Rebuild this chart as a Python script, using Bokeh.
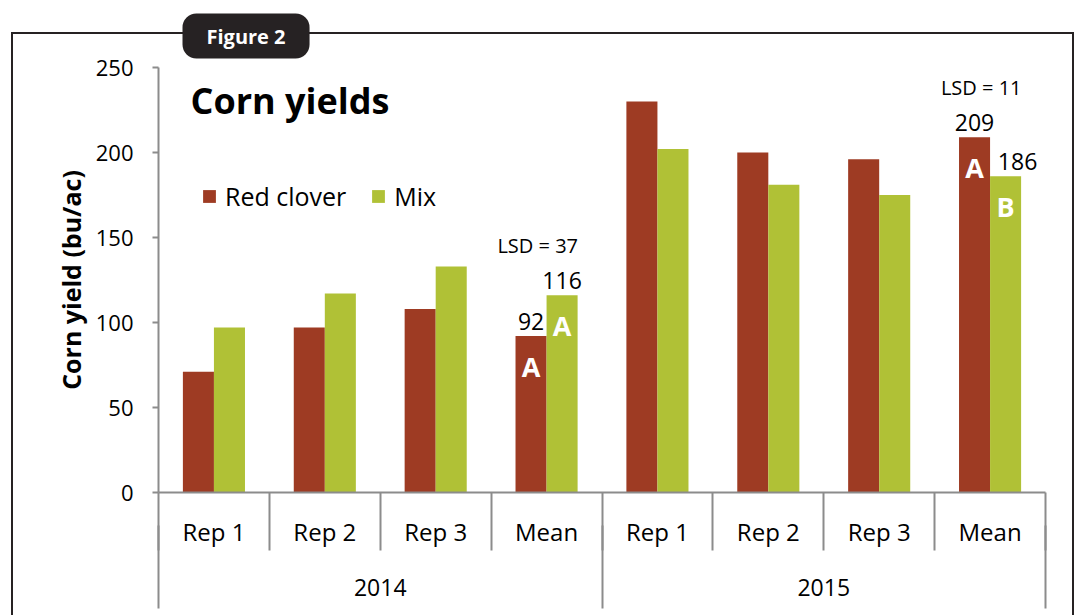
from bokeh.plotting import figure
from bokeh.models import (ColumnDataSource, Range1d, FixedTicker,
                          Label, Legend, LegendItem, LinearAxis)
from bokeh.transform import dodge
from bokeh.core.properties import value
from bokeh.embed import file_html
from bokeh.resources import INLINE

# ---------------- data ----------------
years = ["2014", "2015"]
reps = ["Rep 1", "Rep 2", "Rep 3", "Mean"]
red_clover = [71, 97, 108, 92, 230, 200, 196, 209]
mix = [97, 117, 133, 116, 202, 181, 175, 186]
lsd_text = ["LSD = 37", "LSD = 11"]
red_letters = ["A", "A"]
mix_letters = ["A", "B"]
y_ticks = [0, 50, 100, 150, 200, 250]

# ---------------- style ----------------
FONT = "Open Sans"
RED = "#9e3b23"
GREEN = "#b0c136"
AXIS = "#8c8c8c"
DARK = "#262223"

W, H = 1081, 615
FL, FR, FT, FB = 158, 1045, 67, 492      # frame edges (canvas px)
Y_MAX = 250
PXY = (FB - FT) / Y_MAX

factors = [(y, r) for y in years for r in reps]
n_cat = len(factors)
n_rep = len(reps)
PXX = (FR - FL) / n_cat
slot = [i + 0.5 for i in range(n_cat)]    # category centres on the x scale

def dx(sx):   # canvas px -> x
    return (sx - FL) / PXX

def dy(sy):   # canvas px -> data y
    return Y_MAX - (sy - FT) / PXY

p = figure(width=W, height=H,
           x_range=Range1d(0, n_cat), y_range=Range1d(0, Y_MAX),
           x_axis_location=None,
           title="Figure 2",
           output_backend="svg", toolbar_location=None,
           min_border_left=FL, min_border_right=W - FR,
           min_border_top=FT, min_border_bottom=H - FB)
p.outline_line_color = None
p.xgrid.visible = False
p.ygrid.visible = False
p.background_fill_color = "white"
p.border_fill_alpha = 0

# outer frame lines drawn as page background behind the transparent border area
p.styles = {
    "background-color": "white",
    "background-image": ("linear-gradient(#262223,#262223),"
                         "linear-gradient(#262223,#262223),"
                         "linear-gradient(#262223,#262223)"),
    "background-size": "2px 620px, 2px 620px, 1063px 2px",
    "background-position": "11px 32px, 1072px 32px, 11px 32px",
    "background-repeat": "no-repeat",
}

# "Figure 2" tab as the plot title
t = p.title
t.align = "left"
t.offset = 24
t.standoff = 18
t.text_font = FONT
t.text_font_style = "bold"
t.text_font_size = "20px"
t.text_color = "white"
t.background_fill_color = DARK
t.background_fill_alpha = 1
for k, v in dict(padding=(24, 9), border_radius=14).items():
    if k in t.properties():
        setattr(t, k, v)

# y axis
ya = p.yaxis[0]
ya.ticker = FixedTicker(ticks=y_ticks)
ya.axis_line_color = AXIS
ya.axis_line_width = 2
ya.major_tick_line_color = AXIS
ya.major_tick_line_width = 2
ya.major_tick_out = 6
ya.major_tick_in = 0
ya.minor_tick_line_color = None
ya.major_label_text_font = FONT
ya.major_label_text_font_size = "22px"
ya.major_label_text_color = "black"
ya.major_label_standoff = 19
ya.axis_label = "Corn yield (bu/ac)"
ya.axis_label_text_font = FONT
ya.axis_label_text_font_style = "bold"
ya.axis_label_text_font_size = "25px"
ya.axis_label_text_color = "black"
ya.axis_label_standoff = 5

# Excel-style boxed category axis: replicate labels, then year labels
SEP = 58
cat_axis = LinearAxis(
    ticker=FixedTicker(ticks=slot, minor_ticks=list(range(n_cat + 1))),
    major_label_overrides={s: f[1] for s, f in zip(slot, factors)},
    axis_line_color=AXIS, axis_line_width=2,
    major_tick_line_color=None, major_tick_out=0, major_tick_in=0,
    minor_tick_line_color=AXIS, minor_tick_line_width=2,
    minor_tick_out=SEP, minor_tick_in=0,
    major_label_standoff=22 - SEP, major_label_text_font=FONT,
    major_label_text_font_size="24px", major_label_text_color="black",
)
yr_pos = [i * n_rep + n_rep / 2 for i in range(len(years))]
grp_axis = LinearAxis(
    ticker=FixedTicker(ticks=yr_pos,
                       minor_ticks=[i * n_rep for i in range(len(years) + 1)]),
    major_label_overrides={s: y for s, y in zip(yr_pos, years)},
    axis_line_color=None,
    major_tick_line_color=None, major_tick_out=0, major_tick_in=0,
    minor_tick_line_color=AXIS, minor_tick_line_width=2,
    minor_tick_out=SEP, minor_tick_in=25,
    major_label_standoff=28 - SEP, major_label_text_font=FONT,
    major_label_text_font_size="23px", major_label_text_color="black",
)
p.add_layout(cat_axis, "below")
p.add_layout(grp_axis, "below")

# title text inside the chart
p.add_layout(Label(x=dx(190), y=dy(100), text="Corn yields", text_align="left",
                   text_baseline="alphabetic", text_color="black", text_font=FONT,
                   text_font_style="bold", text_font_size="36px"))

# bars
src = ColumnDataSource(dict(x=slot, red=red_clover, mix=mix))
r1 = p.vbar(x=dodge("x", -0.14), top="red", width=0.28,
            source=src, fill_color=RED, line_color=None)
r2 = p.vbar(x=dodge("x", 0.14), top="mix", width=0.28,
            source=src, fill_color=GREEN, line_color=None)

# mean labels
mean_idx = [i for i, f in enumerate(factors) if f[1] == "Mean"]
msrc = ColumnDataSource(dict(
    x=[slot[i] for i in mean_idx],
    red=[red_clover[i] for i in mean_idx],
    mix=[mix[i] for i in mean_idx],
    red_txt=[str(red_clover[i]) for i in mean_idx],
    mix_txt=[str(mix[i]) for i in mean_idx],
    top=[max(red_clover[i], mix[i]) for i in mean_idx],
    lsd=lsd_text, red_l=red_letters, mix_l=mix_letters,
    nudge=[0, 12],
))
p.text(x=dodge("x", -0.14), y="red", text="red_txt", source=msrc,
       y_offset=-15, text_align="center", text_baseline="alphabetic",
       text_font=value(FONT), text_font_size="23px", text_color="black")
p.text(x=dodge("x", 0.14), y="mix", text="mix_txt", source=msrc,
       x_offset="nudge", y_offset=-15, text_align="center", text_baseline="alphabetic",
       text_font=value(FONT), text_font_size="23px", text_color="black")
p.text(x=dodge("x", -0.08), y="top", text="lsd", source=msrc,
       y_offset=-50, text_align="center", text_baseline="middle",
       text_font=value(FONT), text_font_size="20px", text_color="black")
p.text(x=dodge("x", -0.14), y="red", text="red_l", source=msrc,
       y_offset=30, text_align="center", text_baseline="middle",
       text_font=value(FONT), text_font_style="bold", text_font_size="27px",
       text_color="white")
p.text(x=dodge("x", 0.14), y="mix", text="mix_l", source=msrc,
       y_offset=30, text_align="center", text_baseline="middle",
       text_font=value(FONT), text_font_style="bold", text_font_size="27px",
       text_color="white")

# legend
legend = Legend(items=[LegendItem(label="Red clover", renderers=[r1]),
                       LegendItem(label="Mix", renderers=[r2])],
                location=(43, 279), orientation="horizontal",
                background_fill_alpha=0, border_line_color=None,
                padding=0, margin=0, spacing=24, label_standoff=8,
                glyph_width=16, glyph_height=16,
                label_text_font=FONT, label_text_font_size="25px",
                label_text_color="black")
p.add_layout(legend)

open("out.html", "w").write(file_html(p, INLINE))
